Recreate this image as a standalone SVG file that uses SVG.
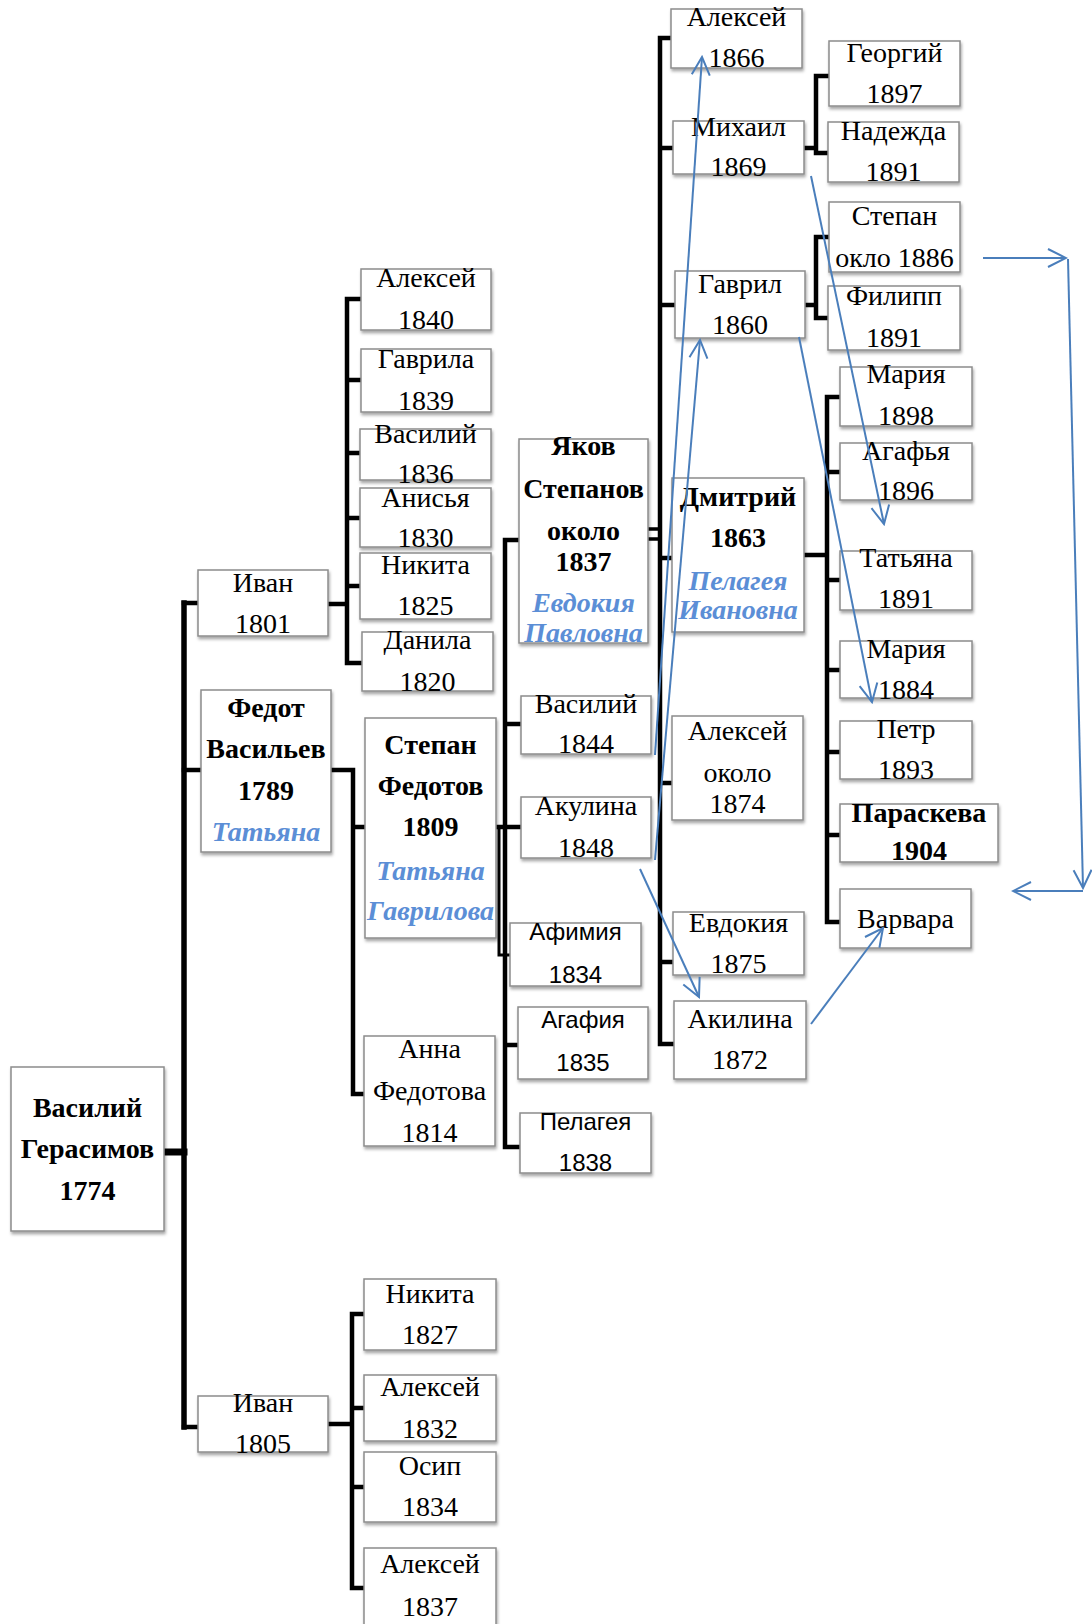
<svg xmlns="http://www.w3.org/2000/svg" width="1092" height="1624" viewBox="0 0 1092 1624">
<defs>
<style>
.box{fill:#fff;stroke:#8c8c8c;stroke-width:1.5;filter:url(#sh)}
.t{font-family:"Liberation Serif","Times New Roman",serif;font-size:28px;text-anchor:middle;fill:#000}
.b{font-weight:bold}
.s{font-family:"Liberation Sans",Arial,sans-serif;font-size:24px}
.sp{fill:#5b8ed6;font-style:italic;font-weight:bold}
.c{stroke:#000;stroke-width:4.5;fill:none;stroke-linejoin:miter;stroke-linecap:square}
.a{stroke:#4a7ebb;stroke-width:2;fill:none;marker-end:url(#ah)}
</style>
<filter id="sh" x="-10%" y="-10%" width="130%" height="140%">
<feDropShadow dx="1" dy="2.5" stdDeviation="1.5" flood-color="#000" flood-opacity="0.35"/>
</filter>
<marker id="ah" viewBox="0 0 22 22" refX="20" refY="11" markerWidth="22" markerHeight="22" markerUnits="userSpaceOnUse" orient="auto">
<path d="M2,2 L20,11 L2,20" fill="none" stroke="#4a7ebb" stroke-width="2"/>
</marker>
</defs>
<rect width="1092" height="1624" fill="#fff"/>

<g id="connectors">
<path class="c" d="M164,1152 H184" style="stroke-width:7"/>
<path class="c" d="M184,603 V1427" style="stroke-width:5.5"/>
<path class="c" d="M184,603 H198 M184,770 H201 M184,1427 H198"/>
<path class="c" d="M328,604 H347 M347,299 V663 M347,299 H361 M347,380 H361 M347,453 H360 M347,518 H360 M347,586 H360 M347,663 H362"/>
<path class="c" d="M331,770 H353 V1094 H364 M353,827 H365"/>
<path class="c" d="M496,827 H505 M505,540 V1147 M505,540 H519 M505,724 H521 M505,827 H521 M505,1045 H518 M505,1147 H520"/>
<path class="c" d="M499,828 V955 H510" style="stroke-width:3"/>
<path class="c" d="M648,529 H660 M648,539 H660" style="stroke-width:3.5"/>
<path class="c" d="M660,38 V1044 M660,38 H671 M660,148 H673 M660,305 H675 M660,558 H672 M660,783 H672 M660,962 H673 M660,1044 H674"/>
<path class="c" d="M804,148 H816 M816,76 V153 M816,76 H829 M816,153 H828"/>
<path class="c" d="M805,305 H816 M816,237 V318 M816,237 H829 M816,318 H828"/>
<path class="c" d="M804,555 H827 M827,397 V922 M827,397 H840 M827,472 H840 M827,580 H840 M827,670 H840 M827,752 H840 M827,835 H840 M827,922 H840"/>
<path class="c" d="M328,1424 H352 M352,1314 V1588 M352,1314 H364 M352,1408 H364 M352,1487 H364 M352,1588 H364"/>
</g>

<g id="n-vasiliy-gerasimov"><rect class="box" x="11" y="1067" width="153" height="164"/>
<text class="t b" x="87.5" y="1117">Василий</text><text class="t b" x="87.5" y="1158">Герасимов</text><text class="t b" x="87.5" y="1200">1774</text></g>

<g id="n-ivan-1801"><rect class="box" x="198" y="570" width="130" height="66"/>
<text class="t" x="263" y="592">Иван</text><text class="t" x="263" y="633">1801</text></g>

<g id="n-fedot"><rect class="box" x="201" y="690" width="130" height="162"/>
<text class="t b" x="266" y="717">Федот</text><text class="t b" x="266" y="758">Васильев</text><text class="t b" x="266" y="800">1789</text><text class="t sp" x="266" y="841">Татьяна</text></g>

<g id="n-ivan-1805"><rect class="box" x="198" y="1396" width="130" height="56"/>
<text class="t" x="263" y="1412">Иван</text><text class="t" x="263" y="1453">1805</text></g>

<g id="n-aleksey-1840"><rect class="box" x="361" y="269" width="130" height="61"/>
<text class="t" x="426" y="287">Алексей</text><text class="t" x="426" y="329">1840</text></g>

<g id="n-gavrila-1839"><rect class="box" x="361" y="349" width="130" height="63"/>
<text class="t" x="426" y="368">Гаврила</text><text class="t" x="426" y="410">1839</text></g>

<g id="n-vasiliy-1836"><rect class="box" x="360" y="429" width="131" height="51"/>
<text class="t" x="425.5" y="443">Василий</text><text class="t" x="425.5" y="483">1836</text></g>

<g id="n-anisya-1830"><rect class="box" x="360" y="488" width="131" height="59"/>
<text class="t" x="425.5" y="507">Анисья</text><text class="t" x="425.5" y="547">1830</text></g>

<g id="n-nikita-1825"><rect class="box" x="360" y="553" width="131" height="66"/>
<text class="t" x="425.5" y="574">Никита</text><text class="t" x="425.5" y="615">1825</text></g>

<g id="n-danila-1820"><rect class="box" x="362" y="632" width="131" height="59"/>
<text class="t" x="427.5" y="649">Данила</text><text class="t" x="427.5" y="691">1820</text></g>

<g id="n-stepan-1809"><rect class="box" x="365" y="718" width="131" height="220"/>
<text class="t b" x="430.5" y="754">Степан</text><text class="t b" x="430.5" y="795">Федотов</text><text class="t b" x="430.5" y="836">1809</text><text class="t sp" x="430.5" y="880">Татьяна</text><text class="t sp" x="430.5" y="920">Гаврилова</text></g>

<g id="n-anna-1814"><rect class="box" x="364" y="1036" width="131" height="110"/>
<text class="t" x="429.5" y="1058">Анна</text><text class="t" x="429.5" y="1100">Федотова</text><text class="t" x="429.5" y="1142">1814</text></g>

<g id="n-nikita-1827"><rect class="box" x="364" y="1279" width="132" height="71"/>
<text class="t" x="430" y="1303">Никита</text><text class="t" x="430" y="1344">1827</text></g>

<g id="n-aleksey-1832"><rect class="box" x="364" y="1375" width="132" height="66"/>
<text class="t" x="430" y="1396">Алексей</text><text class="t" x="430" y="1438">1832</text></g>

<g id="n-osip-1834"><rect class="box" x="364" y="1452" width="132" height="70"/>
<text class="t" x="430" y="1475">Осип</text><text class="t" x="430" y="1516">1834</text></g>

<g id="n-aleksey-1837"><rect class="box" x="364" y="1548" width="132" height="90"/>
<text class="t" x="430" y="1573">Алексей</text><text class="t" x="430" y="1616">1837</text></g>

<g id="n-yakov"><rect class="box" x="519" y="439" width="129" height="204"/>
<text class="t b" x="583.5" y="455">Яков</text><text class="t b" x="583.5" y="498">Степанов</text><text class="t b" x="583.5" y="540">около</text><text class="t b" x="583.5" y="571">1837</text><text class="t sp" x="583.5" y="612">Евдокия</text><text class="t sp" x="583.5" y="642">Павловна</text></g>

<g id="n-vasiliy-1844"><rect class="box" x="521" y="696" width="130" height="58"/>
<text class="t" x="586" y="713">Василий</text><text class="t" x="586" y="753">1844</text></g>

<g id="n-akulina-1848"><rect class="box" x="521" y="797" width="130" height="61"/>
<text class="t" x="586" y="815">Акулина</text><text class="t" x="586" y="857">1848</text></g>

<g id="n-afimiya-1834"><rect class="box" x="510" y="923" width="131" height="63"/>
<text class="t s" x="575.5" y="940">Афимия</text><text class="t s" x="575.5" y="983">1834</text></g>

<g id="n-agafiya-1835"><rect class="box" x="518" y="1007" width="130" height="72"/>
<text class="t s" x="583" y="1028">Агафия</text><text class="t s" x="583" y="1071">1835</text></g>

<g id="n-pelageya-1838"><rect class="box" x="520" y="1113" width="131" height="60"/>
<text class="t s" x="585.5" y="1130">Пелагея</text><text class="t s" x="585.5" y="1171">1838</text></g>

<g id="n-aleksey-1866"><rect class="box" x="671" y="9" width="131" height="59"/>
<text class="t" x="736.5" y="26">Алексей</text><text class="t" x="736.5" y="67">1866</text></g>

<g id="n-mikhail-1869"><rect class="box" x="673" y="121" width="131" height="53"/>
<text class="t" x="738.5" y="136">Михаил</text><text class="t" x="738.5" y="176">1869</text></g>

<g id="n-gavril-1860"><rect class="box" x="675" y="271" width="130" height="67"/>
<text class="t" x="740" y="293">Гаврил</text><text class="t" x="740" y="334">1860</text></g>

<g id="n-dmitriy-1863"><rect class="box" x="672" y="478" width="132" height="154"/>
<text class="t b" x="738" y="506">Дмитрий</text><text class="t b" x="738" y="547">1863</text><text class="t sp" x="738" y="590">Пелагея</text><text class="t sp" x="738" y="619">Ивановна</text></g>

<g id="n-aleksey-1874"><rect class="box" x="672" y="716" width="131" height="104"/>
<text class="t" x="737.5" y="740">Алексей</text><text class="t" x="737.5" y="782">около</text><text class="t" x="737.5" y="813">1874</text></g>

<g id="n-evdokiya-1875"><rect class="box" x="673" y="912" width="131" height="63"/>
<text class="t" x="738.5" y="932">Евдокия</text><text class="t" x="738.5" y="973">1875</text></g>

<g id="n-akilina-1872"><rect class="box" x="674" y="1001" width="132" height="78"/>
<text class="t" x="740" y="1028">Акилина</text><text class="t" x="740" y="1069">1872</text></g>

<g id="n-georgiy-1897"><rect class="box" x="829" y="41" width="131" height="65"/>
<text class="t" x="894.5" y="62">Георгий</text><text class="t" x="894.5" y="103">1897</text></g>

<g id="n-nadezhda-1891"><rect class="box" x="828" y="122" width="131" height="60"/>
<text class="t" x="893.5" y="140">Надежда</text><text class="t" x="893.5" y="181">1891</text></g>

<g id="n-stepan-1886"><rect class="box" x="829" y="202" width="131" height="70"/>
<text class="t" x="894.5" y="225">Степан</text><text class="t" x="894.5" y="267">окло 1886</text></g>

<g id="n-filipp-1891"><rect class="box" x="828" y="286" width="132" height="64"/>
<text class="t" x="894" y="305">Филипп</text><text class="t" x="894" y="347">1891</text></g>

<g id="n-mariya-1898"><rect class="box" x="840" y="367" width="132" height="59"/>
<text class="t" x="906" y="383">Мария</text><text class="t" x="906" y="425">1898</text></g>

<g id="n-agafya-1896"><rect class="box" x="840" y="443" width="132" height="57"/>
<text class="t" x="906" y="460">Агафья</text><text class="t" x="906" y="500">1896</text></g>

<g id="n-tatyana-1891"><rect class="box" x="840" y="551" width="132" height="59"/>
<text class="t" x="906" y="567">Татьяна</text><text class="t" x="906" y="608">1891</text></g>

<g id="n-mariya-1884"><rect class="box" x="840" y="641" width="132" height="57"/>
<text class="t" x="906" y="658">Мария</text><text class="t" x="906" y="699">1884</text></g>

<g id="n-petr-1893"><rect class="box" x="840" y="721" width="132" height="58"/>
<text class="t" x="906" y="738">Петр</text><text class="t" x="906" y="779">1893</text></g>

<g id="n-paraskeva-1904"><rect class="box" x="840" y="804" width="158" height="58"/>
<text class="t b" x="919" y="822">Параскева</text><text class="t b" x="919" y="860">1904</text></g>

<g id="n-varvara"><rect class="box" x="840" y="889" width="131" height="59"/>
<text class="t" x="905.5" y="928">Варвара</text></g>

<g id="arrows">
<path class="a" d="M655,755 L702,57"/>
<path class="a" d="M655,860 L700,340"/>
<path class="a" d="M811,176 L884,524"/>
<path class="a" d="M799,337 L872,702"/>
<path class="a" d="M983,258 L1066,258"/>
<path class="a" d="M1068,259 L1083,888"/>
<path class="a" d="M1083,891 L1013,891"/>
<path class="a" d="M640,869 L699,997"/>
<path class="a" d="M811,1024 L883,928"/>
</g>
</svg>
